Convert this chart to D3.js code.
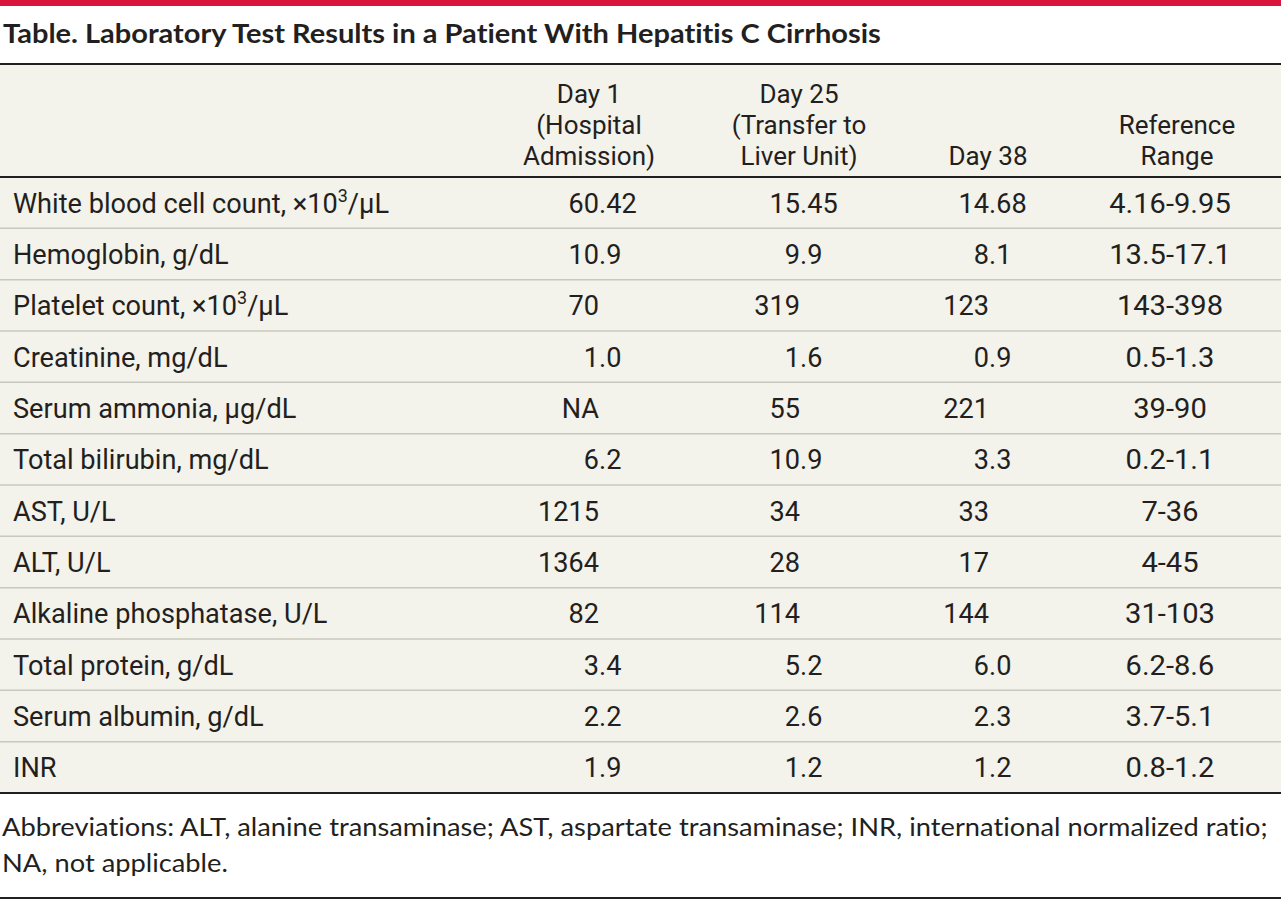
<!DOCTYPE html>
<html>
<head>
<meta charset="utf-8">
<script src="https://cdn.jsdelivr.net/npm/d3@7"></script>
<style>
  html, body { margin: 0; padding: 0; background: #ffffff; }
  svg { display: block; }
  text { font-variant-ligatures: none; font-feature-settings: "liga" 0, "tnum" 1; }
  .body-text { font-family: Roboto, "Noto Sans", sans-serif; fill: #231f20; }
  .title { font-family: Lato, "Open Sans", sans-serif; font-weight: 700; fill: #231f20; }
  .foot { font-family: Lato, "Open Sans", sans-serif; fill: #231f20; }
</style>
</head>
<body>
<svg id="chart" width="1281" height="901"></svg>
<script>
// ---- data ----
const titleText = "Table. Laboratory Test Results in a Patient With Hepatitis C Cirrhosis";
const columnHeaders = [
  ["Day 1", "(Hospital", "Admission)"],
  ["Day 25", "(Transfer to", "Liver Unit)"],
  ["Day 38"],
  ["Reference", "Range"]
];
const tests = [
  "White blood cell count, ×10^3/µL",
  "Hemoglobin, g/dL",
  "Platelet count, ×10^3/µL",
  "Creatinine, mg/dL",
  "Serum ammonia, µg/dL",
  "Total bilirubin, mg/dL",
  "AST, U/L",
  "ALT, U/L",
  "Alkaline phosphatase, U/L",
  "Total protein, g/dL",
  "Serum albumin, g/dL",
  "INR"
];
const day1 = ["60.42", "10.9", "70", "1.0", "NA", "6.2", "1215", "1364", "82", "3.4", "2.2", "1.9"];
const day25 = ["15.45", "9.9", "319", "1.6", "55", "10.9", "34", "28", "114", "5.2", "2.6", "1.2"];
const day38 = ["14.68", "8.1", "123", "0.9", "221", "3.3", "33", "17", "144", "6.0", "2.3", "1.2"];
const referenceRange = ["4.16-9.95", "13.5-17.1", "143-398", "0.5-1.3", "39-90", "0.2-1.1", "7-36", "4-45", "31-103", "6.2-8.6", "3.7-5.1", "0.8-1.2"];
const footnoteLines = [
  "Abbreviations: ALT, alanine transaminase; AST, aspartate transaminase; INR, international normalized ratio;",
  "NA, not applicable."
];

// ---- layout ----
const W = 1281, H = 901;
const svg = d3.select("#chart");
const ink = "#231f20";
const beige = "#f3f2eb";
const ruleLight = "#c9c8bd";

const headerTop = 64, headerBottom = 177, tableBottom = 793;
const y = d3.scaleBand().domain(d3.range(tests.length)).range([headerBottom, tableBottom]);
const colKeys = ["day1", "day25", "day38", "ref"];
const decimalX = d3.scaleOrdinal().domain(colKeys).range([599, 800, 989, 1170]);
const headerX = d3.scaleOrdinal().domain(colKeys).range([589, 799, 988, 1177]);

const bodySize = 28, bodySX = 0.97;
const headSize = 26, headSX = 1.0;

// top red band
svg.append("rect").attr("x", 0).attr("y", 0).attr("width", W).attr("height", 6).attr("fill", "#d9163a");

// title
svg.append("text").attr("class", "title")
  .attr("font-size", 27)
  .attr("transform", "translate(3,43) scale(1.075,1)")
  .text(titleText);

// table background
svg.append("rect").attr("x", 0).attr("y", headerTop).attr("width", W)
  .attr("height", tableBottom - headerTop).attr("fill", beige);

// row separators
svg.append("g").selectAll("line")
  .data(d3.range(1, tests.length))
  .join("line")
  .attr("x1", 0).attr("x2", W)
  .attr("y1", d => y(d)).attr("y2", d => y(d))
  .attr("stroke", ruleLight).attr("stroke-width", 1.5);

// heavy rules
[headerTop, headerBottom, tableBottom, 898].forEach(v => {
  svg.append("line").attr("x1", 0).attr("x2", W).attr("y1", v).attr("y2", v)
    .attr("stroke", ink).attr("stroke-width", 2);
});

// headers (bottom aligned)
const headLineStep = 31, headLastBaseline = 165;
columnHeaders.forEach((lines, ci) => {
  const n = lines.length;
  lines.forEach((t, li) => {
    const by = headLastBaseline - (n - 1 - li) * headLineStep;
    svg.append("text").attr("class", "body-text")
      .attr("text-anchor", "middle")
      .attr("font-size", headSize)
      .attr("transform", `translate(${headerX(colKeys[ci])},${by}) scale(${headSX},1)`)
      .text(t);
  });
});

// row labels
const rowBaseline = i => y(i) + y.bandwidth() / 2 + 10;
tests.forEach((label, i) => {
  const t = svg.append("text").attr("class", "body-text")
    .attr("font-size", bodySize)
    .attr("transform", `translate(13,${rowBaseline(i)}) scale(${bodySX},1)`);
  const parts = label.split(/\^(\d)/);
  parts.forEach((p, k) => {
    if (k % 2 === 1) {
      t.append("tspan").attr("font-size", bodySize * 0.66).attr("dy", -11).text(p);
    } else if (k > 0) {
      t.append("tspan").attr("dy", 11).text(p);
    } else {
      t.append("tspan").text(p);
    }
  });
});

// decimal-aligned values
function drawDecimal(values, key) {
  const ax = decimalX(key);
  values.forEach((v, i) => {
    const dot = v.indexOf(".");
    const intPart = dot >= 0 ? v.slice(0, dot) : v;
    const frac = dot >= 0 ? v.slice(dot) : "";
    const by = rowBaseline(i);
    svg.append("text").attr("class", "body-text").attr("font-size", bodySize)
      .attr("text-anchor", "end")
      .attr("transform", `translate(${ax},${by}) scale(${bodySX},1)`)
      .text(intPart);
    if (frac) {
      svg.append("text").attr("class", "body-text").attr("font-size", bodySize)
        .attr("text-anchor", "start")
        .attr("transform", `translate(${ax},${by}) scale(${bodySX},1)`)
        .text(frac);
    }
  });
}
drawDecimal(day1, "day1");
drawDecimal(day25, "day25");
drawDecimal(day38, "day38");

referenceRange.forEach((v, i) => {
  svg.append("text").attr("class", "body-text").attr("font-size", bodySize)
    .attr("text-anchor", "middle")
    .attr("transform", `translate(${decimalX("ref")},${rowBaseline(i)}) scale(1.04,1)`)
    .text(v);
});

// footnote
footnoteLines.forEach((t, i) => {
  svg.append("text").attr("class", "foot")
    .attr("font-size", 25.5)
    .attr("transform", `translate(2,${836 + i * 36}) scale(1.07,1)`)
    .text(t);
});
</script>
</body>
</html>
